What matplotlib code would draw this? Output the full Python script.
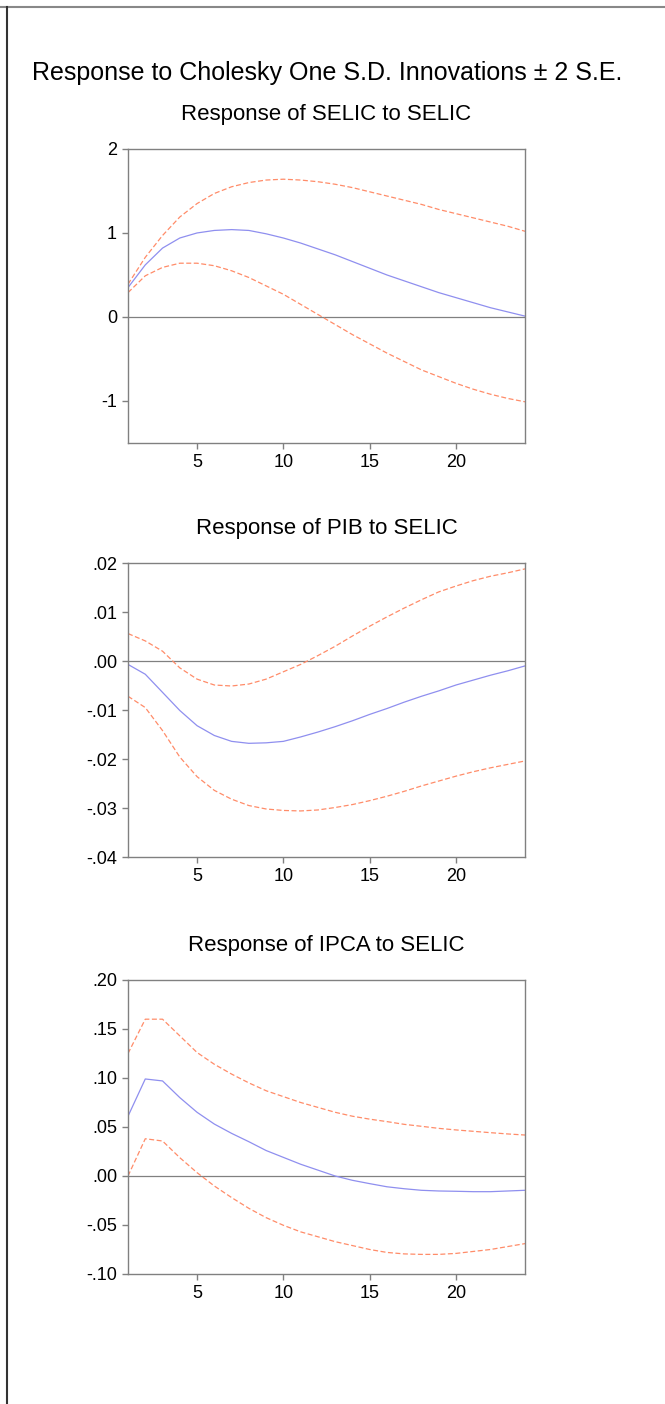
import matplotlib.pyplot as plt
from matplotlib.lines import Line2D

periods = list(range(1, 25))

# Response of SELIC to SELIC
selic_mid = [0.35, 0.62, 0.82, 0.94, 1.00, 1.03, 1.04, 1.03, 0.99, 0.94, 0.88, 0.81,
             0.74, 0.66, 0.58, 0.50, 0.43, 0.36, 0.29, 0.23, 0.17, 0.11, 0.06, 0.01]
selic_up = [0.39, 0.71, 0.97, 1.19, 1.35, 1.47, 1.55, 1.60, 1.63, 1.64, 1.63, 1.61,
            1.58, 1.54, 1.49, 1.44, 1.39, 1.34, 1.28, 1.23, 1.18, 1.13, 1.08, 1.02]
selic_lo = [0.29, 0.49, 0.59, 0.64, 0.64, 0.61, 0.55, 0.47, 0.37, 0.27, 0.15, 0.03,
            -0.09, -0.21, -0.32, -0.43, -0.53, -0.63, -0.71, -0.79, -0.86, -0.92, -0.97, -1.01]

# Response of PIB to SELIC
pib_mid = [-0.0007, -0.0027, -0.0064, -0.0101, -0.0132, -0.0152, -0.0164, -0.0168,
           -0.0167, -0.0164, -0.0155, -0.0145, -0.0134, -0.0122, -0.0109, -0.0097,
           -0.0084, -0.0072, -0.0061, -0.0049, -0.0039, -0.0029, -0.0020, -0.0010]
pib_up = [0.0056, 0.0041, 0.0020, -0.0014, -0.0037, -0.0049, -0.0051, -0.0047,
          -0.0037, -0.0022, -0.0007, 0.0011, 0.0030, 0.0051, 0.0071, 0.0090,
          0.0108, 0.0125, 0.0141, 0.0153, 0.0164, 0.0173, 0.0180, 0.0188]
pib_lo = [-0.0072, -0.0095, -0.0142, -0.0196, -0.0236, -0.0264, -0.0282, -0.0295,
          -0.0302, -0.0305, -0.0306, -0.0304, -0.0299, -0.0293, -0.0285, -0.0276,
          -0.0266, -0.0255, -0.0245, -0.0235, -0.0226, -0.0218, -0.0211, -0.0204]

# Response of IPCA to SELIC
ipca_mid = [0.061, 0.099, 0.097, 0.080, 0.065, 0.053, 0.0435, 0.035, 0.026, 0.019,
            0.012, 0.006, 0.000, -0.0044, -0.0078, -0.011, -0.013, -0.0146, -0.0153,
            -0.0156, -0.016, -0.016, -0.0153, -0.0146]
ipca_up = [0.125, 0.160, 0.160, 0.143, 0.126, 0.114, 0.104, 0.095, 0.087, 0.081,
           0.075, 0.070, 0.065, 0.061, 0.058, 0.0555, 0.0527, 0.0507, 0.0486, 0.047,
           0.0456, 0.0442, 0.0429, 0.0418]
ipca_lo = [0.000, 0.038, 0.0357, 0.0187, 0.0034, -0.0102, -0.022, -0.033, -0.0425,
           -0.0503, -0.057, -0.062, -0.067, -0.071, -0.075, -0.078, -0.0795, -0.080,
           -0.080, -0.079, -0.077, -0.075, -0.072, -0.069]

titles = ["Response of SELIC to SELIC", "Response of PIB to SELIC", "Response of IPCA to SELIC"]
yticks = [[-1, 0, 1, 2], [-0.04, -0.03, -0.02, -0.01, 0.0, 0.01, 0.02],
          [-0.10, -0.05, 0.0, 0.05, 0.10, 0.15, 0.20]]
yticklabels = [["-1", "0", "1", "2"], ["-.04", "-.03", "-.02", "-.01", ".00", ".01", ".02"],
               ["-.10", "-.05", ".00", ".05", ".10", ".15", ".20"]]
ylims = [(-1.5, 2), (-0.04, 0.02), (-0.10, 0.20)]
xticks = [5, 10, 15, 20]

series = [(selic_mid, selic_up, selic_lo), (pib_mid, pib_up, pib_lo), (ipca_mid, ipca_up, ipca_lo)]

blue = "#8f8fef"
red = "#ff8c69"
grey = "#808080"

plt.rcParams['font.family'] = ['Liberation Sans', 'DejaVu Sans']

fig = plt.figure(figsize=(6.65, 14.04), dpi=100)

# frame lines of the page
fig.add_artist(Line2D([0, 1], [1 - 7 / 1404, 1 - 7 / 1404], color="#888888", lw=1.5))
fig.add_artist(Line2D([7 / 665, 7 / 665], [0, 1 - 7 / 1404], color="#333333", lw=1.5))

fig.text(0.4925, 1 - 80 / 1404, "Response to Cholesky One S.D. Innovations \u00b1 2 S.E.",
         ha="center", va="baseline", fontsize=18)

bottoms = [0.6845, 0.3896, 0.0926]
for i in range(3):
    ax = fig.add_axes([0.1925, bottoms[i], 0.597, 0.2094])
    mid, up, lo = series[i]
    ax.axhline(0, color=grey, lw=0.9)
    ax.plot(periods, up, color=red, lw=0.9, ls=(0, (4, 2)))
    ax.plot(periods, lo, color=red, lw=0.9, ls=(0, (4, 2)))
    ax.plot(periods, mid, color=blue, lw=0.9)
    ax.set_xlim(1, 24)
    ax.set_ylim(*ylims[i])
    ax.set_xticks(xticks)
    ax.set_yticks(yticks[i])
    ax.set_yticklabels(yticklabels[i])
    for s in ax.spines.values():
        s.set_color(grey)
        s.set_linewidth(1.0)
    ax.tick_params(direction="out", length=4.3, width=1, color=grey, labelsize=13, pad=3.6)
    ax.set_title(titles[i], fontsize=16, pad=21)

plt.savefig("out.png", dpi=100)
